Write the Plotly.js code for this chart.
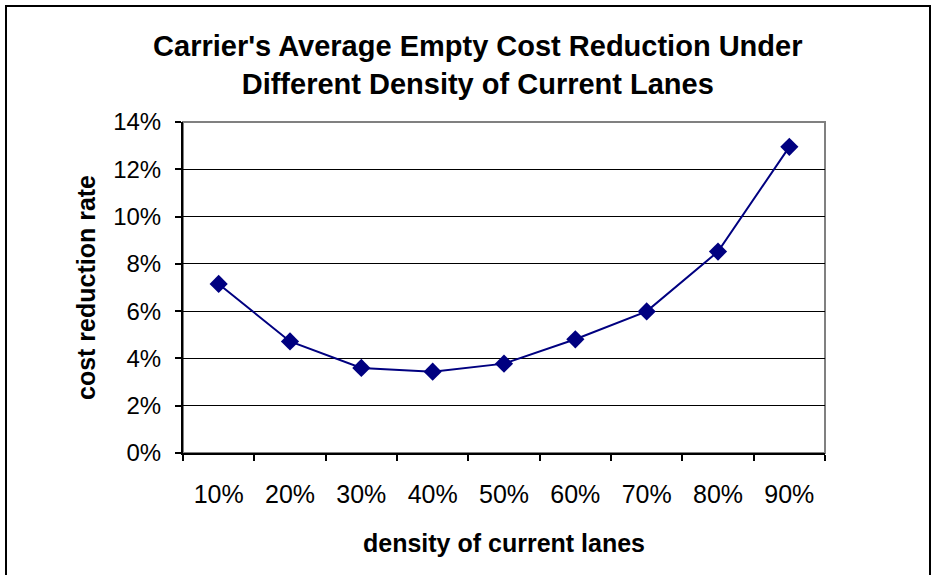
<!DOCTYPE html>
<html>
<head>
<meta charset="utf-8">
<script src="https://cdn.plot.ly/plotly-3.0.1.min.js"></script>
<style>
  html, body { margin: 0; padding: 0; background: #ffffff; }
  #chart { width: 935px; height: 575px; }
</style>
</head>
<body>
<div id="chart"></div>
<script>
const categories = ["10%", "20%", "30%", "40%", "50%", "60%", "70%", "80%", "90%"];
const costReduction = [0.0715, 0.0472, 0.0360, 0.0344, 0.0378, 0.0481, 0.0599, 0.0852, 0.1295];
const yTickValues = [0, 0.02, 0.04, 0.06, 0.08, 0.10, 0.12, 0.14];

const chartTitle = "Carrier's Average Empty Cost Reduction Under<br>Different Density of Current Lanes";
const xTitle = "density of current lanes";
const yTitle = "cost reduction rate";

const W = 935, H = 575;
const M = { l: 183, r: 110, t: 122, b: 122 };
const pw = W - M.l - M.r, ph = H - M.t - M.b;
function px2paperX(px) { return (px - M.l) / pw; }
function px2paperY(py) { return (H - M.b - py) / ph; }

const font = "Liberation Sans, Arial, sans-serif";

const trace = {
  type: "scatter",
  mode: "lines+markers",
  x: categories,
  y: costReduction,
  line: { color: "#000080", width: 2 },
  marker: { symbol: "diamond", size: 14, color: "#000080", line: { width: 0 } },
  hoverinfo: "x+y"
};

const layout = {
  width: W, height: H,
  margin: M,
  paper_bgcolor: "#ffffff",
  plot_bgcolor: "#ffffff",
  showlegend: false,
  font: { family: font, color: "#000000" },
  title: {
    text: chartTitle,
    font: { family: font, size: 29, color: "#000000", weight: "bold" },
    x: 0.511, xref: "container", xanchor: "center",
    y: 1 - 56 / H, yref: "container", yanchor: "top"
  },
  xaxis: {
    type: "category",
    range: [-0.5, 8.5],
    showgrid: false,
    zeroline: false,
    showline: true, linecolor: "#000000", linewidth: 2,
    ticks: "outside", tickson: "boundaries", ticklen: 6, tickwidth: 2, tickcolor: "#000000",
    tickfont: { family: font, size: 25, color: "#000000" },
    ticklabelstandoff: 18,
    title: { text: xTitle, font: { family: font, size: 25, color: "#000000", weight: "bold" }, standoff: 27 },
    fixedrange: true
  },
  yaxis: {
    range: [0, 0.14],
    tickvals: yTickValues,
    tickformat: ".0%",
    showgrid: true, gridcolor: "#000000", gridwidth: 1,
    zeroline: false,
    showline: true, linecolor: "#000000", linewidth: 2,
    ticks: "outside", ticklen: 6, tickwidth: 2, tickcolor: "#000000",
    tickfont: { family: font, size: 24, color: "#000000" },
    ticklabelstandoff: 9,
    title: { text: yTitle, font: { family: font, size: 25, color: "#000000", weight: "bold" }, standoff: 10 },
    fixedrange: true
  },
  shapes: [
    {
      type: "rect", xref: "paper", yref: "paper", layer: "below",
      x0: 0, x1: 1, y0: 0, y1: 1,
      line: { color: "#808080", width: 2 }, fillcolor: "rgba(0,0,0,0)"
    },
    {
      type: "rect", xref: "paper", yref: "paper", layer: "below",
      x0: px2paperX(6), x1: px2paperX(930), y0: px2paperY(590), y1: px2paperY(6),
      line: { color: "#000000", width: 2 }, fillcolor: "rgba(0,0,0,0)"
    }
  ]
};

Plotly.newPlot("chart", [trace], layout, { displayModeBar: false, staticPlot: true });
</script>
</body>
</html>
